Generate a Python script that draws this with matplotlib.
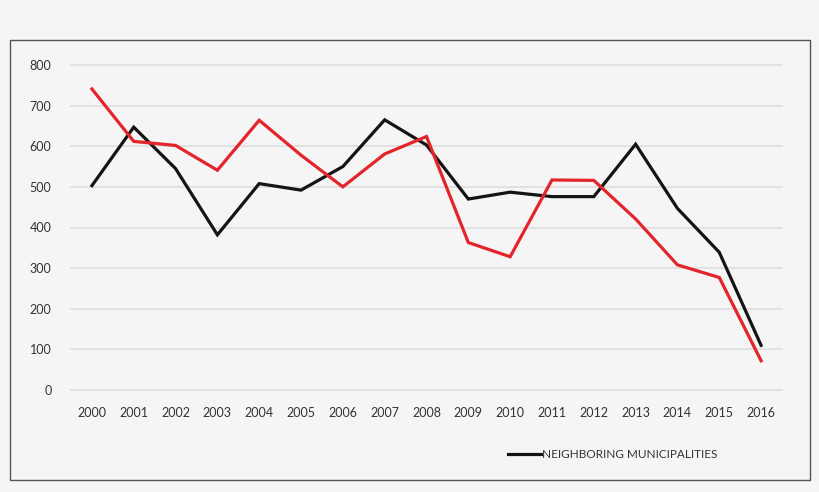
import matplotlib.pyplot as plt
from matplotlib.patches import Rectangle

years = list(range(2000, 2017))
neighboring = [503, 647, 545, 382, 508, 492, 550, 665, 603, 470, 487, 476, 476, 605, 447, 339, 110]
other = [741, 612, 602, 541, 664, 578, 500, 581, 624, 363, 328, 517, 516, 421, 308, 277, 72]
yticks = [0, 100, 200, 300, 400, 500, 600, 700, 800]

plt.rcParams['font.family'] = ['Lato', 'DejaVu Sans']
bg = '#f5f5f5'
txt = '#333333'

fig = plt.figure(figsize=(8.2, 4.92), dpi=100, facecolor=bg)
fig.patches.append(Rectangle((10 / 820, 12 / 492), 800 / 820, 440 / 492,
                             transform=fig.transFigure, fill=False,
                             edgecolor='#555555', linewidth=1.0))

ax = fig.add_axes([71 / 820, 102 / 492, 711 / 820, 325 / 492])
ax.set_facecolor(bg)
ax.set_xlim(1999.5, 2016.5)
ax.set_ylim(0, 800)

for y in yticks:
    ax.axhline(y, color='#dedede', linewidth=1.2, zorder=0, clip_on=False)

ax.plot(years, other, color='#e3242b', linewidth=2.3, solid_joinstyle='miter', zorder=3)
ax.plot(years, neighboring, color='#141414', linewidth=2.3, solid_joinstyle='miter',
        zorder=2, label='NEIGHBORING MUNICIPALITIES')

for s in ax.spines.values():
    s.set_visible(False)
ax.set_xticks(years)
ax.set_xticklabels([str(y) for y in years])
ax.set_yticks(yticks)
ax.tick_params(length=0, labelsize=9, colors=txt)
ax.tick_params(axis='x', pad=12)
ax.tick_params(axis='y', pad=14)

ax.legend(loc='center left', bbox_to_anchor=(497 / 820, 37 / 492),
          bbox_transform=fig.transFigure, frameon=False, fontsize=8.5,
          handlelength=2.8, handletextpad=0.15, labelcolor=txt)

fig.savefig('out.png', dpi=100, facecolor=bg)
